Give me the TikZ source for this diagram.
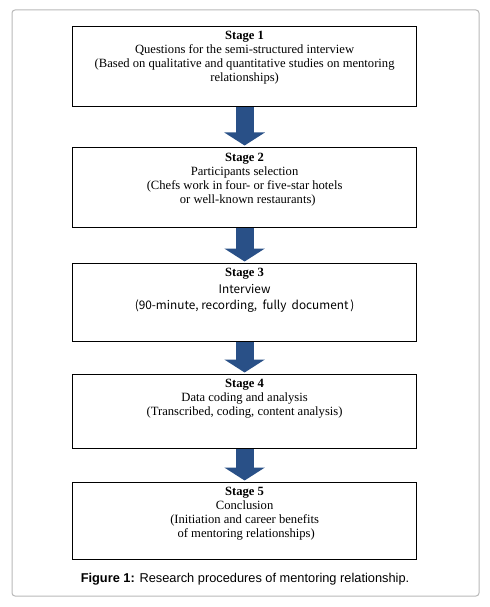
\documentclass[tikz,border=0pt]{standalone}
\usepackage{fontspec}
\setmainfont{Liberation Serif}
\newfontfamily\capfont{Liberation Sans}
\newfontfamily\korfont{Noto Sans CJK KR}
\usetikzlibrary{arrows.meta}
\definecolor{arrowblue}{RGB}{41,80,135}
\definecolor{framegray}{RGB}{185,185,185}
\begin{document}
\begin{tikzpicture}[x=1bp,y=-1bp,
  stagebox/.style={draw=black,line width=1.2bp,minimum width=344bp,inner sep=0pt,anchor=north west},
  stagetext/.style={anchor=north,align=center,inner sep=0pt,font=\fontsize{12.6bp}{14bp}\selectfont},
  flowarrow/.style={draw=arrowblue,line width=18bp,-{Triangle[width=40bp,length=13bp,fill=arrowblue]},shorten >=1.5bp},
  frame/.style={draw=framegray,line width=1bp,rounded corners=3bp}]
\useasboundingbox (0,0) rectangle (490,607);
\fill[white] (0,0) rectangle (490,607);
\draw[frame] (12,10) rectangle (479,596);
% boxes
\node[stagebox,minimum height=80bp] (b1) at (72,26) {};
\node[stagebox,minimum height=80bp] (b2) at (72,147) {};
\node[stagebox,minimum height=78bp] (b3) at (72,263) {};
\node[stagebox,minimum height=74bp] (b4) at (72,374) {};
\node[stagebox,minimum height=77bp] (b5) at (72,482) {};
% texts
\node[stagetext] (t1) at ([yshift=-4.5bp]b1.north) {\textbf{Stage 1}\\Questions for the semi-structured interview\\(Based on qualitative and quantitative studies on mentoring\\relationships)};
\node[stagetext] (t2) at ([yshift=-6bp]b2.north) {\textbf{Stage 2}\\Participants selection\\(Chefs work in four- or five-star hotels\\\ \ or well-known restaurants)};
\node[stagetext] (t3) at ([yshift=-5bp]b3.north) {\textbf{Stage 3}\\[3bp]{\korfont\fontsize{11.8bp}{15bp}\selectfont Interview}\\[2bp]{\korfont\fontsize{11.8bp}{15bp}\selectfont (90-minute, recording,\ \ fully\ \ document\,)}};
\node[stagetext] (t4) at ([yshift=-4.5bp]b4.north) {\textbf{Stage 4}\\Data coding and analysis\\(Transcribed, coding, content analysis)};
\node[stagetext] (t5) at ([yshift=-4.5bp]b5.north) {\textbf{Stage 5}\\Conclusion\\(Initiation and career benefits\\\ of mentoring relationships)};
% arrows
\draw[flowarrow] (b1.south) -- (b2.north);
\draw[flowarrow] (b2.south) -- (b3.north);
\draw[flowarrow] (b3.south) -- (b4.north);
\draw[flowarrow] (b4.south) -- (b5.north);
% caption
\node[font=\capfont\fontsize{12.8bp}{14bp}\selectfont,inner sep=0pt] (cap) at (245,579) {\textbf{Figure 1:} Research procedures of mentoring relationship.};
\end{tikzpicture}
\end{document}
